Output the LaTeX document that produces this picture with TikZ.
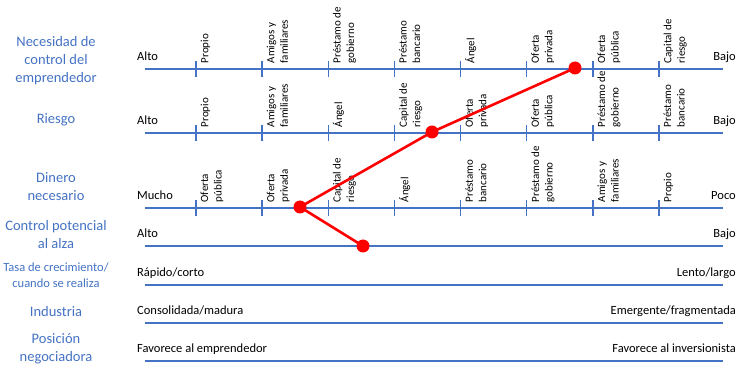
\documentclass[tikz,border=0pt]{standalone}
\usepackage{fontspec}
\setmainfont{Carlito}
\definecolor{axisblue}{HTML}{4472C4}
\definecolor{titleblue}{HTML}{4472C4}
\definecolor{markred}{HTML}{FF0000}
\begin{document}
\begin{tikzpicture}[x=1pt,y=-1pt,
  axis/.style={draw=axisblue,line width=2.4pt},
  tickmark/.style={draw=axisblue,line width=1.4pt},
  ticklabel/.style={rotate=90,anchor=north west,inner sep=0pt,align=left,
    font=\fontsize{11}{13.5}\selectfont},
  endlabel/.style={inner sep=0pt,font=\fontsize{12.5}{15}\selectfont},
  rowtitle/.style={align=center,text=titleblue,inner sep=0pt,
    font=\fontsize{14.5}{18}\selectfont},
  smalltitle/.style={rowtitle,font=\fontsize{12.5}{16}\selectfont},
  dot/.style={circle,fill=markred,inner sep=0pt,minimum size=13pt},
  redline/.style={draw=markred,line width=2.6pt}]
\useasboundingbox (0,0) rectangle (740,366);

% row titles
\node[rowtitle] (t1) at (56,61) {Necesidad de\\control del\\emprendedor};
\node[rowtitle] (t2) at (56,120) {Riesgo};
\node[rowtitle] (t3) at (56,187) {Dinero\\necesario};
\node[rowtitle] (t4) at (56,235) {Control potencial\\al alza};
\node[smalltitle] (t5) at (56,275) {Tasa de crecimiento/\\cuando se realiza};
\node[rowtitle] (t6) at (56,312) {Industria};
\node[rowtitle] (t7) at (56,349) {Posición\\negociadora};

% axis lines
\foreach \y [count=\r] in {69,133,208,246,285,323,361}{
  \draw[axis] (145,\y) coordinate (a\r w) -- (723,\y) coordinate (a\r e);
}

% tick marks on the first three axes
\foreach \y in {69,133,208}{
  \foreach \i in {0,...,7}{
    \draw[tickmark] ({196+\i*66.14},\y-8) -- ({196+\i*66.14},\y+8);
  }
}

% tick labels
\foreach \lbl [count=\i from 0] in {Propio,{Amigos y\\familiares},{Préstamo de\\gobierno},{Préstamo\\bancario},Ángel,{Oferta\\privada},{Oferta\\pública},{Capital de\\riesgo}}{
  \node[ticklabel] (ra\i) at ({200.5+\i*66.14},63.5) {\lbl};
}
\foreach \lbl [count=\i from 0] in {Propio,{Amigos y\\familiares},Ángel,{Capital de\\riesgo},{Oferta\\privada},{Oferta\\pública},{Préstamo de\\gobierno},{Préstamo\\bancario}}{
  \node[ticklabel] (rb\i) at ({200.5+\i*66.14},127.5) {\lbl};
}
\foreach \lbl [count=\i from 0] in {{Oferta\\pública},{Oferta\\privada},{Capital de\\riesgo},Ángel,{Préstamo\\bancario},{Préstamo de\\gobierno},{Amigos y\\familiares},Propio}{
  \node[ticklabel] (rc\i) at ({200.5+\i*66.14},202.5) {\lbl};
}

% end labels
\foreach \l/\rr/\y [count=\r] in {Alto/Bajo/69,Alto/Bajo/133,Mucho/Poco/208,Alto/Bajo/246,Rápido\slash corto/Lento\slash largo/285,Consolidada\slash madura/Emergente\slash fragmentada/323,Favorece al emprendedor/Favorece al inversionista/361}{
  \node[endlabel,anchor=base west] (l\r) at (137,\y-8) {\l};
  \node[endlabel,anchor=base east] (e\r) at (736,\y-8) {\rr};
}

% red path through the chosen positions
\coordinate (p1) at (575,68);
\coordinate (p2) at (432,132);
\coordinate (p3) at (300,207);
\coordinate (p4) at (363,246);
\draw[redline] (p1) -- (p2) -- (p3) -- (p4);
\node[dot] (d1) at (p1) {};
\node[dot] (d2) at (p2) {};
\node[dot] (d3) at (p3) {};
\node[dot] (d4) at (p4) {};
\end{tikzpicture}
\end{document}
